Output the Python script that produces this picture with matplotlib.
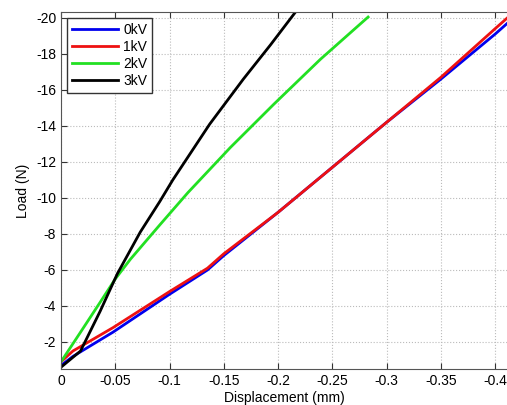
import matplotlib
matplotlib.use("Agg")
from matplotlib import pyplot as plt

# displacement (mm) / load (N)
disp_0kv = [0, -0.011, -0.048, -0.1, -0.135, -0.15, -0.2, -0.25, -0.3, -0.35, -0.4, -0.415]
load_0kv = [-0.7, -1.2, -2.55, -4.65, -6.0, -6.8, -9.2, -11.7, -14.2, -16.6, -19.1, -19.9]

disp_1kv = [0, -0.011, -0.048, -0.1, -0.135, -0.15, -0.2, -0.25, -0.3, -0.35, -0.4, -0.415]
load_1kv = [-0.9, -1.5, -2.8, -4.8, -6.1, -6.9, -9.2, -11.7, -14.2, -16.7, -19.4, -20.2]

disp_2kv = [0, -0.0175, -0.036, -0.05, -0.064, -0.091, -0.117, -0.156, -0.196, -0.239, -0.283]
load_2kv = [-0.9, -2.5, -4.2, -5.5, -6.6, -8.5, -10.3, -12.8, -15.2, -17.7, -20.05]

disp_3kv = [0, -0.008, -0.018, -0.036, -0.052, -0.073, -0.091, -0.103, -0.137, -0.168, -0.193, -0.217]
load_3kv = [-0.6, -1.0, -1.5, -3.7, -5.8, -8.1, -9.8, -11.0, -14.1, -16.6, -18.5, -20.4]

x_ticks = [0, -0.05, -0.1, -0.15, -0.2, -0.25, -0.3, -0.35, -0.4]
x_labels = ["0", "-0.05", "-0.1", "-0.15", "-0.2", "-0.25", "-0.3", "-0.35", "-0.4"]
y_ticks = [-2, -4, -6, -8, -10, -12, -14, -16, -18, -20]
y_labels = ["-2", "-4", "-6", "-8", "-10", "-12", "-14", "-16", "-18", "-20"]

plt.rcParams['font.family'] = ['Liberation Sans', 'DejaVu Sans']

fig = plt.figure(figsize=(5.07, 4.05), dpi=100)
ax = fig.add_axes([61 / 507, 1 - 369 / 405, 1 - 61 / 507, (369 - 12) / 405])

ax.plot(disp_0kv, load_0kv, color='#0000ee', lw=2, label='0kV')
ax.plot(disp_1kv, load_1kv, color='#ee1111', lw=2, label='1kV')
ax.plot(disp_2kv, load_2kv, color='#22e022', lw=2, label='2kV')
ax.plot(disp_3kv, load_3kv, color='black', lw=2, label='3kV')

ax.set_xlim(0, -0.411)
ax.set_ylim(-0.5, -20.33)
ax.set_xticks(x_ticks)
ax.set_xticklabels(x_labels)
ax.set_yticks(y_ticks)
ax.set_yticklabels(y_labels)
ax.tick_params(direction='in', top=True, labelsize=10, length=4, color='#333333')
ax.grid(True, linestyle=':', color='#bbbbbb', linewidth=0.8)
for side in ['left', 'bottom', 'top']:
    ax.spines[side].set_color('#555555')
ax.spines['right'].set_visible(False)

ax.set_xlabel('Displacement (mm)', fontsize=10, labelpad=2)
ax.set_ylabel('Load (N)', fontsize=10, labelpad=4)

leg = ax.legend(loc='upper left', fontsize=10, fancybox=False, framealpha=1,
                edgecolor='#333333', handlelength=3.3, borderpad=0.35,
                labelspacing=0.22, handletextpad=0.4, borderaxespad=0.45)

fig.savefig('out.png', dpi=100)
